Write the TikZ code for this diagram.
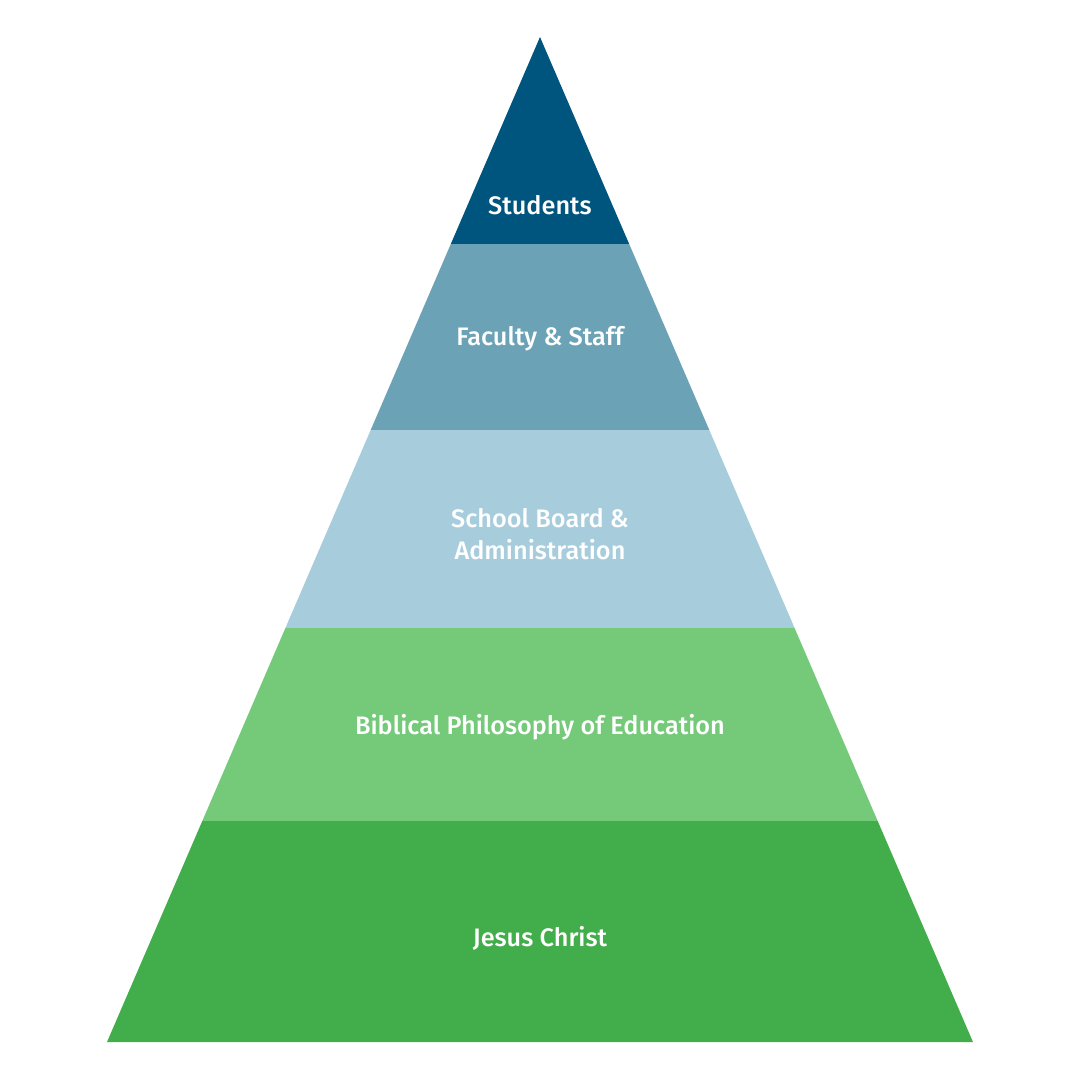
\documentclass[tikz,border=0pt]{standalone}
\usepackage{fontspec}
\setmainfont{Fira Sans}[UprightFont={* Medium}]

\definecolor{colorStudents}{HTML}{00557F}
\definecolor{colorFaculty}{HTML}{6BA2B6}
\definecolor{colorBoard}{HTML}{A7CDDD}
\definecolor{colorPhilosophy}{HTML}{75CA7A}
\definecolor{colorChrist}{HTML}{42AD4B}

\begin{document}
\begin{tikzpicture}[
    x=0.1mm, y=0.1mm,
    % Layer styles
    layer/.style={draw=none},
    % Label styles
    layer_label/.style={
        text=white,
        font=\fontsize{7.2}{9}\selectfont,
        align=center,
        inner sep=0pt
    }
]
    \useasboundingbox (0,0) rectangle (1080,1080);

    % ==================== PYRAMID OUTLINE ====================
    \coordinate (apex) at (540,1043);
    \coordinate (l1) at (450.8,836);  \coordinate (r1) at (629.2,836);
    \coordinate (l2) at (370.7,650);  \coordinate (r2) at (709.3,650);
    \coordinate (l3) at (285.4,452);  \coordinate (r3) at (794.6,452);
    \coordinate (l4) at (202.3,259);  \coordinate (r4) at (877.7,259);
    \coordinate (l5) at (107,38);     \coordinate (r5) at (973,38);

    % Layers (top to bottom)
    \fill[layer, colorStudents]   (apex) -- (r1) -- (l1) -- cycle;
    \fill[layer, colorFaculty]    (l1) -- (r1) -- (r2) -- (l2) -- cycle;
    \fill[layer, colorBoard]      (l2) -- (r2) -- (r3) -- (l3) -- cycle;
    \fill[layer, colorPhilosophy] (l3) -- (r3) -- (r4) -- (l4) -- cycle;
    \fill[layer, colorChrist]     (l4) -- (r4) -- (r5) -- (l5) -- cycle;

    % Labels
    \node[layer_label] (students)   at (540,875) {Students};
    \node[layer_label] (faculty)    at (540,741) {Faculty \& Staff};
    \node[layer_label] (board)      at (540,546) {School Board \&\\Administration};
    \node[layer_label] (philosophy) at (540,353) {Biblical Philosophy of Education};
    \node[layer_label] (christ)     at (540,142) {Jesus Christ};

\end{tikzpicture}
\end{document}
